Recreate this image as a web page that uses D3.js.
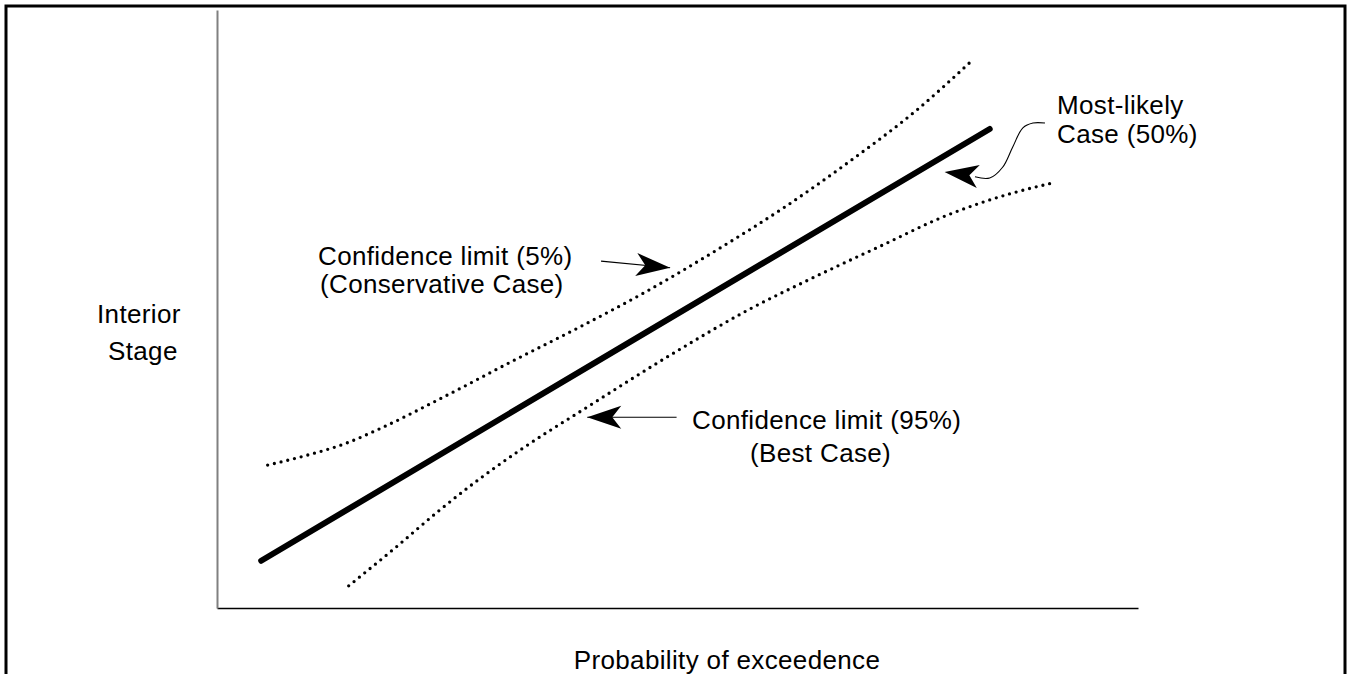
<!DOCTYPE html>
<html>
<head>
<meta charset="utf-8">
<script src="https://cdn.jsdelivr.net/npm/d3@7"></script>
<style>
  html, body { margin: 0; padding: 0; background: #fff; }
  svg { display: block; }
  text { font-family: "Liberation Sans", Arial, sans-serif; font-size: 26px; letter-spacing: 0.35px; fill: #000; }
</style>
</head>
<body>
<svg id="chart" width="1350" height="674"></svg>
<script>
// ---- Data (abstract units: x = probability of exceedence 0-100, y = interior stage 0-100) ----
const mostLikely = [[4.8, 7.9], [44.3, 44.0], [83.9, 80.1]];                 // 50 %
const conservative = [                                                       // 5 %
  [5.5, 23.9], [9.9, 25.6], [14.1, 27.6], [17.7, 30.0], [25.0, 35.6], [32.1, 41.3],
  [39.4, 47.0], [46.7, 53.0], [54.3, 59.9], [61.5, 66.9], [68.7, 74.7], [76.0, 83.3], [81.8, 91.3]
];
const bestCase = [                                                           // 95 %
  [14.3, 3.7], [19.3, 10.0], [24.2, 16.4], [28.6, 21.7], [32.9, 26.4], [40.2, 33.6],
  [50.3, 43.3], [57.5, 49.7], [64.4, 55.0], [72.0, 60.5], [79.3, 65.7], [86.4, 69.4], [90.8, 71.1]
];
const xLabel = "Probability of exceedence";
const yLabel = ["Interior", "Stage"];
const label5 = ["Confidence limit (5%)", "(Conservative Case)"];
const label95 = ["Confidence limit (95%)", "(Best Case)"];
const label50 = ["Most-likely", "Case (50%)"];
// annotation arrows, in data units: [tail, tip]
const arrow5 = [[41.7, 58.0], [49.2, 56.9]];
const arrow95 = [[49.9, 31.9], [40.2, 31.9]];
const arrow50 = [[89.9, 81.1], [88.6, 81.1], [87.5, 80.3], [86.4, 77.1], [85.3, 73.7], [83.9, 71.9], [82.3, 72.1], [79.0, 72.9]];

// ---- Layout ----
const svg = d3.select("#chart");
const x = d3.scaleLinear().domain([0, 100]).range([217, 1138]);
const y = d3.scaleLinear().domain([0, 100]).range([608, 10]);

// outer frame
svg.append("rect").attr("x", 6).attr("y", 6).attr("width", 1339).attr("height", 720)
  .attr("fill", "none").attr("stroke", "#000").attr("stroke-width", 3);

// axes (no ticks)
const gx = svg.append("g").attr("transform", `translate(0,${y(0)})`)
  .call(d3.axisBottom(x).tickValues([]).tickSizeOuter(0));
gx.select(".domain").attr("stroke", "#000").attr("stroke-width", 1.5);
const gy = svg.append("g").attr("transform", `translate(${x(0)},0)`)
  .call(d3.axisLeft(y).tickValues([]).tickSizeOuter(0));
gy.select(".domain").attr("stroke", "#808080").attr("stroke-width", 2);

const line = d3.line().x(d => x(d[0])).y(d => y(d[1])).curve(d3.curveMonotoneX);

[conservative, bestCase].forEach(s => {
  svg.append("path").datum(s).attr("d", line)
    .attr("fill", "none").attr("stroke", "#000").attr("stroke-width", 3.3)
    .attr("stroke-linecap", "round").attr("stroke-dasharray", "0 6.9");
});
svg.append("path").datum(mostLikely).attr("d", d3.line().x(d => x(d[0])).y(d => y(d[1])))
  .attr("fill", "none").attr("stroke", "#000").attr("stroke-width", 6)
  .attr("stroke-linecap", "round");

// arrowheads
function arrowHead(tip, from) {
  const tx = x(tip[0]), ty = y(tip[1]);
  const ang = Math.atan2(ty - y(from[1]), tx - x(from[0])) * 180 / Math.PI;
  svg.append("path")
    .attr("d", "M0,0 L-34,-11.5 L-25,0 L-34,11.5 Z")
    .attr("transform", `translate(${tx},${ty}) rotate(${ang})`)
    .attr("fill", "#000");
}
const simple = d3.line().x(d => x(d[0])).y(d => y(d[1]));
svg.append("path").datum(arrow5).attr("d", simple).attr("stroke", "#000").attr("stroke-width", 1.2).attr("fill", "none");
arrowHead(arrow5[1], arrow5[0]);
svg.append("path").datum(arrow95).attr("d", simple).attr("stroke", "#000").attr("stroke-width", 1.2).attr("fill", "none");
arrowHead(arrow95[1], arrow95[0]);
svg.append("path").datum(arrow50.slice(0, 7))
  .attr("d", d3.line().x(d => x(d[0])).y(d => y(d[1])).curve(d3.curveCatmullRom))
  .attr("stroke", "#000").attr("stroke-width", 1.1).attr("fill", "none");
arrowHead(arrow50[7], arrow50[5]);

// text
function lines(arr, px, py, dy, anchor) {
  arr.forEach((t, i) => {
    const p = Array.isArray(px) ? px[i] : px;
    svg.append("text").attr("x", p).attr("y", py + i * dy).attr("text-anchor", anchor || "start").text(t);
  });
}
lines(yLabel, [97, 108], 323, 37);
lines(label5, [318, 320], 265, 28);
lines(label95, [692, 750], 429, 33);
lines(label50, [1057, 1057], 114, 29);
svg.append("text").attr("x", 727).attr("y", 669).attr("text-anchor", "middle").text(xLabel);
</script>
</body>
</html>
